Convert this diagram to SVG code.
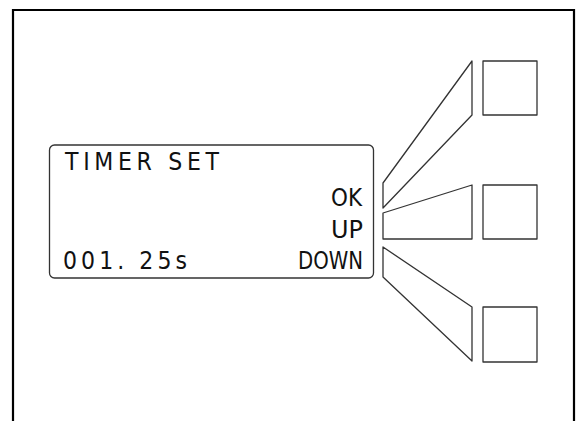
<svg xmlns="http://www.w3.org/2000/svg" width="587" height="421" viewBox="0 0 587 421">
<style>
.frame{fill:none;stroke:#000;stroke-width:2.2}
.ln{fill:none;stroke:#333;stroke-width:1.3;stroke-linejoin:round}
.t{font-family:"DejaVu Sans Condensed","DejaVu Sans",sans-serif;font-size:24.5px;fill:#111}
</style>
<rect width="587" height="421" fill="#fff"/>
<path class="frame" d="M13,430 V10 H574 V430"/>
<g id="panel">
<rect class="ln" x="49.5" y="145" width="324" height="133" rx="5"/>
<text class="t" x="65" y="170" textLength="154" lengthAdjust="spacing">TIMER SET</text>
<text class="t" x="331" y="206" textLength="31" lengthAdjust="spacingAndGlyphs">OK</text>
<text class="t" x="331" y="238" textLength="32" lengthAdjust="spacingAndGlyphs">UP</text>
<text class="t" x="63" y="269" textLength="124" lengthAdjust="spacing">001. 25s</text>
<text class="t" x="298" y="269" textLength="65" lengthAdjust="spacingAndGlyphs">DOWN</text>
</g>
<g id="connectors">
<polygon class="ln" points="383,183 472,61 472,115 383,208"/>
<polygon class="ln" points="383,213 472,185 472,239 383,239"/>
<polygon class="ln" points="383,247 472,307 472,361 383,277"/>
</g>
<g id="btn-ok"><rect class="ln" x="483" y="61" width="54" height="54"/></g>
<g id="btn-up"><rect class="ln" x="483" y="185" width="54" height="54"/></g>
<g id="btn-down"><rect class="ln" x="483" y="307" width="54" height="55"/></g>
</svg>
